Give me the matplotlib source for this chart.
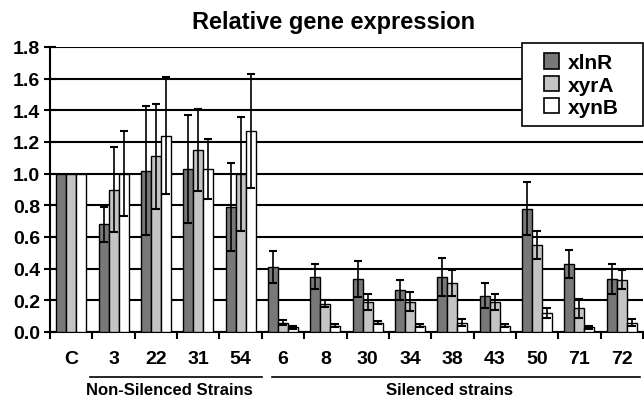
import numpy as np
import matplotlib
matplotlib.use('Agg')
import matplotlib.pyplot as plt
from matplotlib.patches import Patch, Rectangle
from matplotlib.transforms import blended_transform_factory

plt.rcParams['font.family'] = ['Liberation Sans', 'DejaVu Sans']
plt.rcParams['font.weight'] = 'bold'

strains = ['C', '3', '22', '31', '54', '6', '8', '30', '34', '38', '43', '50', '71', '72']
series_names = ['xlnR', 'xyrA', 'xynB']

xlnR = [1.0, 0.68, 1.02, 1.03, 0.79, 0.41, 0.35, 0.335, 0.265, 0.35, 0.23, 0.78, 0.43, 0.335]
xlnR_err = [0, 0.11, 0.41, 0.34, 0.28, 0.10, 0.08, 0.115, 0.065, 0.12, 0.08, 0.17, 0.09, 0.095]
xyrA = [1.0, 0.90, 1.11, 1.15, 1.0, 0.06, 0.18, 0.19, 0.19, 0.31, 0.19, 0.55, 0.15, 0.33]
xyrA_err = [0, 0.27, 0.33, 0.26, 0.36, 0.015, 0.02, 0.05, 0.06, 0.08, 0.05, 0.09, 0.06, 0.06]
xynB = [1.0, 1.0, 1.24, 1.03, 1.27, 0.03, 0.04, 0.06, 0.04, 0.06, 0.04, 0.12, 0.03, 0.06]
xynB_err = [0, 0.27, 0.37, 0.19, 0.36, 0.01, 0.01, 0.01, 0.01, 0.02, 0.01, 0.03, 0.008, 0.02]

group_labels = ['Non-Silenced Strains', 'Silenced strains']

colors = ['#787878', '#c4c4c4', '#ffffff']

fig = plt.figure(figsize=(6.44, 4.02), dpi=100)
ax = fig.add_axes([50 / 644, 1 - 333 / 402, 593 / 644, (333 - 48) / 402])

x = np.arange(len(strains))
width = 0.236
all_vals = [xlnR, xyrA, xynB]
all_errs = [xlnR_err, xyrA_err, xynB_err]

for k, (vals, errs) in enumerate(zip(all_vals, all_errs)):
    pos = x + (k - 1) * width
    ax.bar(pos, vals, width, color=colors[k], edgecolor='black', linewidth=1.0, zorder=3)
    # control (C) has no error bar
    ax.errorbar(pos[1:], vals[1:], yerr=errs[1:], fmt='none', ecolor='black',
                elinewidth=1.2, capsize=3, capthick=1.5, zorder=4)

ax.set_xlim(-0.5, len(strains) - 0.5)
ax.set_ylim(0, 1.8)
ax.set_yticks(np.arange(0, 1.81, 0.2))
ax.set_yticklabels(['%.1f' % v for v in np.arange(0, 1.81, 0.2)], fontsize=14, fontweight='bold')
ax.yaxis.grid(True, color='black', linewidth=1.5, zorder=0)
ax.set_axisbelow(True)

ax.set_xticks(x)
ax.set_xticklabels(strains, fontsize=14, fontweight='bold')
ax.set_xticks(np.arange(-0.5, len(strains), 1.0), minor=True)
ax.tick_params(axis='x', which='major', length=0, pad=13)
ax.tick_params(axis='x', which='minor', direction='out', length=5, width=1.5)
ax.tick_params(axis='y', direction='inout', length=8, width=1.5, pad=3)

for s in ['top', 'right']:
    ax.spines[s].set_visible(False)
for s in ['left', 'bottom']:
    ax.spines[s].set_linewidth(1.5)

# group underlines and labels
trans = blended_transform_factory(ax.transData, fig.transFigure)
ax.plot([0.44, 4.5], [1 - 378 / 402] * 2, color='black', lw=1.2, transform=trans, clip_on=False)
ax.plot([4.74, 13.43], [1 - 378 / 402] * 2, color='black', lw=1.2, transform=trans, clip_on=False)
ax.text(2.31, 1 - 391 / 402, group_labels[0], transform=trans, ha='center', va='center',
        fontsize=12, fontweight='bold')
ax.text(8.94, 1 - 391 / 402, group_labels[1], transform=trans, ha='center', va='center',
        fontsize=12, fontweight='bold')

fig.text(334 / 644, 1 - 22 / 402, 'Relative gene expression', ha='center', va='center',
         fontsize=17, fontweight='bold')

# legend box drawn by hand so it can be wider than its contents
box = Rectangle((522 / 644, 1 - 127 / 402), 121 / 644, 83 / 402, transform=fig.transFigure,
                facecolor='white', edgecolor='black', linewidth=1.2, zorder=10, clip_on=False)
ax.add_patch(box)
handles = [Patch(facecolor=c, edgecolor='black', linewidth=1.2) for c in colors]
leg = ax.legend(handles, series_names, loc='center', bbox_to_anchor=(581 / 644, 1 - 86 / 402),
                bbox_transform=fig.transFigure, frameon=False, fontsize=15,
                handlelength=0.75, handleheight=0.75, handletextpad=0.4, labelspacing=0.15,
                borderpad=0.2)
leg.set_zorder(11)
for t in leg.get_texts():
    t.set_fontweight('bold')

plt.savefig('out.png', dpi=100)
